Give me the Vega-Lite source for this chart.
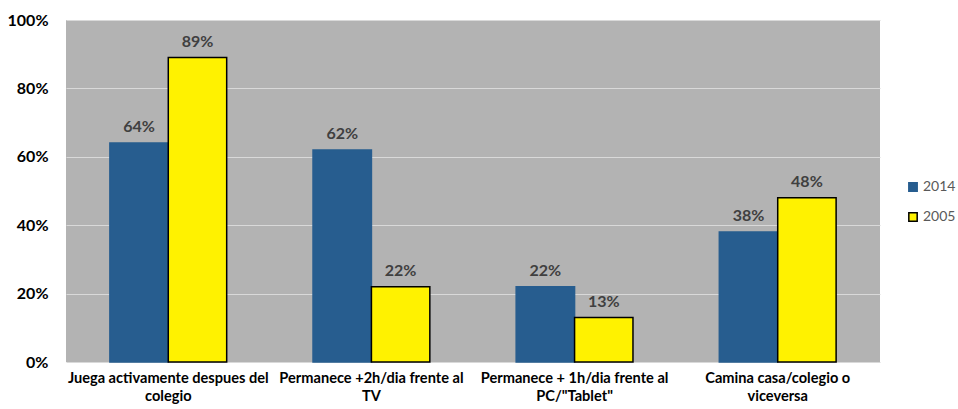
{
  "$schema": "https://vega.github.io/schema/vega-lite/v6.json",
  "width": 814,
  "height": 342,
  "autosize": "none",
  "padding": {"left": 66, "top": 20, "right": 78, "bottom": 47},
  "config": {
    "font": "Lato",
    "view": {"fill": "#b3b3b3", "stroke": null},
    "background": "white"
  },
  "data": {
    "values": [
      {"actividad": "Juega activamente despues del colegio", "anio": "2014", "valor": 0.64},
      {"actividad": "Juega activamente despues del colegio", "anio": "2005", "valor": 0.89},
      {"actividad": "Permanece +2h/dia frente al TV", "anio": "2014", "valor": 0.62},
      {"actividad": "Permanece +2h/dia frente al TV", "anio": "2005", "valor": 0.22},
      {"actividad": "Permanece + 1h/dia frente al PC/\"Tablet\"", "anio": "2014", "valor": 0.22},
      {"actividad": "Permanece + 1h/dia frente al PC/\"Tablet\"", "anio": "2005", "valor": 0.13},
      {"actividad": "Camina casa/colegio o viceversa", "anio": "2014", "valor": 0.38},
      {"actividad": "Camina casa/colegio o viceversa", "anio": "2005", "valor": 0.48}
    ]
  },
  "encoding": {
    "x": {
      "field": "actividad",
      "type": "nominal",
      "sort": null,
      "scale": {"paddingInner": 0.425, "paddingOuter": 0.216},
      "axis": {
        "title": null,
        "labelAngle": 0,
        "domain": false,
        "ticks": false,
        "labelPadding": 8,
        "labelFontSize": 14.6,
        "labelFontWeight": "bold",
        "labelColor": "#000000",
        "labelLineHeight": 18,
        "labelLimit": 0,
        "labelOverlap": false,
        "labelExpr": "[substring(datum.label,0,lastindexof(datum.label,' ')), substring(datum.label,lastindexof(datum.label,' ')+1)]"
      }
    },
    "xOffset": {"field": "anio", "type": "nominal", "sort": ["2014", "2005"]},
    "y": {
      "field": "valor",
      "type": "quantitative",
      "scale": {"domain": [0, 1], "nice": false},
      "axis": {
        "title": null,
        "format": ".0%",
        "values": [0, 0.2, 0.4, 0.6, 0.8, 1],
        "labelOverlap": false,
        "domain": false,
        "ticks": false,
        "labelPadding": 18,
        "labelFontSize": 16,
        "labelFontWeight": "bold",
        "labelColor": "#000000",
        "gridColor": "#d9d9d9",
        "gridWidth": 1
      }
    }
  },
  "layer": [
    {
      "mark": {"type": "bar", "strokeWidth": 1.5},
      "encoding": {
        "color": {
          "field": "anio",
          "type": "nominal",
          "sort": ["2014", "2005"],
          "scale": {"domain": ["2014", "2005"], "range": ["#275d8f", "#fff200"]},
          "legend": {
            "title": null,
            "orient": "none",
            "legendX": 840,
            "legendY": 160,
            "symbolType": "square",
            "symbolSize": 70,
            "symbolStrokeWidth": 1.5,
            "labelFontSize": 14,
            "labelColor": "#595959",
            "labelFont": "Lato",
            "rowPadding": 14,
            "labelOffset": 3
          }
        },
        "stroke": {
          "field": "anio",
          "type": "nominal",
          "sort": ["2014", "2005"],
          "scale": {"domain": ["2014", "2005"], "range": ["#275d8f", "#000000"]},
          "legend": {
            "title": null,
            "orient": "none",
            "legendX": 840,
            "legendY": 160,
            "symbolType": "square",
            "symbolSize": 70,
            "symbolStrokeWidth": 1.5,
            "labelFontSize": 14,
            "labelColor": "#595959",
            "labelFont": "Lato",
            "rowPadding": 14,
            "labelOffset": 3
          }
        }
      }
    },
    {
      "mark": {"type": "text", "dy": -16, "fontSize": 16, "fontWeight": "bold", "color": "#404040"},
      "encoding": {
        "text": {"field": "valor", "type": "quantitative", "format": ".0%"}
      }
    }
  ]
}
